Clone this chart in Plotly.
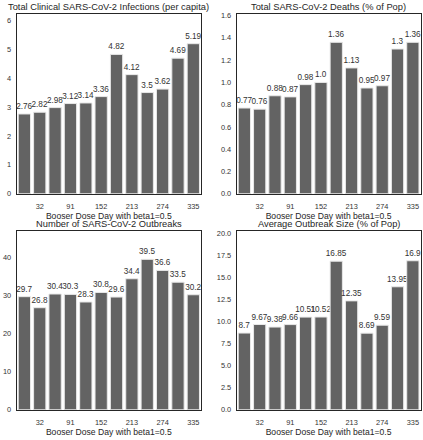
import plotly.graph_objects as go

days = [1, 32, 60, 91, 121, 152, 182, 213, 244, 274, 305, 335]
tick_days = [32, 91, 152, 213, 274, 335]

infections = [2.76, 2.82, 2.98, 3.12, 3.14, 3.36, 4.82, 4.12, 3.5, 3.62, 4.69, 5.19]
deaths = [0.77, 0.76, 0.88, 0.87, 0.98, 1.0, 1.36, 1.13, 0.95, 0.97, 1.3, 1.36]
outbreaks = [29.7, 26.8, 30.4, 30.3, 28.3, 30.8, 29.6, 34.4, 39.5, 36.6, 33.5, 30.2]
avg_size = [8.7, 9.67, 9.38, 9.66, 10.51, 10.52, 16.85, 12.35, 8.69, 9.59, 13.95, 16.9]

titles = ["Total Clinical SARS-CoV-2 Infections (per capita)",
          "Total SARS-CoV-2 Deaths (% of Pop)",
          "Number of SARS-CoV-2 Outbreaks",
          "Average Outbreak Size (% of Pop)"]
xlabel = "Booser Dose Day with beta1=0.5"

series = [infections, deaths, outbreaks, avg_size]
yranges = [[0, 6.2], [0, 1.61], [0, 47], [0, 20.3]]
ytickvals = [[0, 1, 2, 3, 4, 5, 6],
             [0, 0.2, 0.4, 0.6, 0.8, 1.0, 1.2, 1.4, 1.6],
             [0, 10, 20, 30, 40],
             [0, 2.5, 5, 7.5, 10, 12.5, 15, 17.5, 20]]
yticktext = [[str(v) for v in ytickvals[0]],
             ["0.0", "0.2", "0.4", "0.6", "0.8", "1.0", "1.2", "1.4", "1.6"],
             [str(v) for v in ytickvals[2]],
             ["0.0", "2.5", "5.0", "7.5", "10.0", "12.5", "15.0", "17.5", "20.0"]]

W, H = 423, 440
xdoms = [[16.7 / W, 201 / W], [236.7 / W, 420.5 / W]]
ydoms = [[(H - 194.3) / H, (H - 11.7) / H], [(H - 414.3) / H, (H - 232) / H]]

FONT = "Liberation Sans, Arial, sans-serif"
fig = go.Figure()
cats = [str(d) for d in days]
annotations = []
for i, vals in enumerate(series):
    r, c = divmod(i, 2)
    xa = "x" if i == 0 else f"x{i+1}"
    ya = "y" if i == 0 else f"y{i+1}"
    fig.add_trace(go.Bar(
        x=cats, y=vals, xaxis=xa, yaxis=ya,
        marker=dict(color="#636363", line=dict(color="#e8e8e8", width=1)),
        width=0.8,
        text=[str(v) for v in vals], textposition="outside",
        textfont=dict(family=FONT, size=8.2, color="#333333"),
        constraintext="none", cliponaxis=False, showlegend=False,
        hoverinfo="skip",
    ))
    xkey = "xaxis" if i == 0 else f"xaxis{i+1}"
    ykey = "yaxis" if i == 0 else f"yaxis{i+1}"
    fig.layout[xkey] = dict(
        domain=xdoms[c], anchor=ya, type="category",
        categoryorder="array", categoryarray=cats,
        range=[-0.5, len(days) - 0.5],
        tickmode="array", tickvals=[str(d) for d in tick_days],
        ticktext=[str(d) for d in tick_days],
        showline=True, mirror=True, linecolor="#262626", linewidth=1,
        showgrid=False, ticks="", ticklen=0, ticklabelstandoff=5,
        tickfont=dict(family=FONT, size=7.4, color="#333333"),
        title=dict(text=xlabel, font=dict(family=FONT, size=8.6, color="#262626"), standoff=1),
    )
    fig.layout[ykey] = dict(
        domain=ydoms[r], anchor=xa, range=yranges[i],
        tickmode="array", tickvals=ytickvals[i], ticktext=yticktext[i],
        showline=True, mirror=True, linecolor="#262626", linewidth=1,
        showgrid=False, zeroline=False, ticks="", ticklen=0, ticklabelstandoff=3,
        tickfont=dict(family=FONT, size=7.4, color="#333333"),
    )
    xc = (xdoms[c][0] + xdoms[c][1]) / 2
    ytop = ydoms[r][1]
    annotations.append(dict(
        text=titles[i], x=xc, y=ytop, xref="paper", yref="paper",
        xanchor="center", yanchor="bottom", yshift=1, showarrow=False,
        borderpad=0,
        font=dict(family=FONT, size=9.3, color="#262626"),
    ))

fig.update_layout(
    width=W, height=H, margin=dict(l=0, r=0, t=0, b=0),
    paper_bgcolor="white", plot_bgcolor="white",
    annotations=annotations, bargap=0.2,
)
fig.write_html("out.html", config={"displayModeBar": False},
               post_script="document.body.style.margin='0';")
